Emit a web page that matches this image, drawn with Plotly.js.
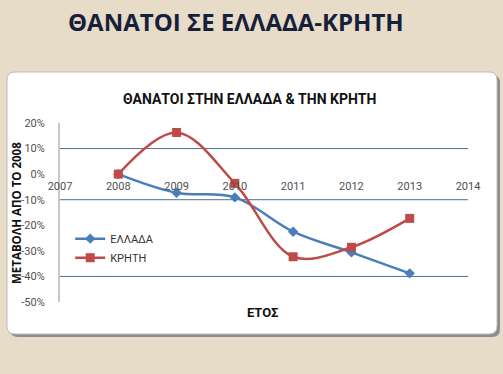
<!DOCTYPE html>
<html>
<head>
<meta charset="utf-8">
<script src="https://cdn.plot.ly/plotly-3.0.1.min.js"></script>
<style>html,body{margin:0;padding:0;background:#e6dcc8;}#chart{width:503px;height:374px;}</style>
</head>
<body>
<div id="chart"></div>
<script>
const years = [2008, 2009, 2010, 2011, 2012, 2013];
const greece = [0, -0.073, -0.091, -0.225, -0.306, -0.388];
const crete = [0, 0.163, -0.036, -0.323, -0.286, -0.173];
const xTicks = [2007, 2008, 2009, 2010, 2011, 2012, 2013, 2014];
const yTicks = [0.2, 0.1, 0, -0.1, -0.2, -0.3, -0.4, -0.5];
const yTickText = ['20%', '10%', '0%', '-10%', '-20%', '-30%', '-40%', '-50%'];
const gridVals = [0.1, -0.1, -0.4];
const seriesNames = ['ΕΛΛΑΔΑ', 'ΚΡΗΤΗ'];

const FONT = 'Roboto, "Open Sans", sans-serif';

const traces = [
  {x: years, y: greece, name: seriesNames[0], type: 'scatter', mode: 'lines+markers',
   line: {color: '#4a7ebb', width: 2.5, shape: 'spline', smoothing: 1},
   marker: {symbol: 'diamond', size: 8, color: '#4a7ebb'}},
  {x: years, y: crete, name: seriesNames[1], type: 'scatter', mode: 'lines+markers',
   line: {color: '#be4b48', width: 2.5, shape: 'spline', smoothing: 1},
   marker: {symbol: 'square', size: 9, color: '#be4b48'}}
];

// px -> paper helpers (plot area 60..468 x, 123..302 y)
const L = 60, R = 468, T = 123, B = 302;
const px = v => (v - L) / (R - L);
const py = v => (B - v) / (B - T);
function rrect(x0, y0, x1, y1, r) {
  const a = px(x0), b = px(x1), c = py(y0), d = py(y1);
  const rx = r / (R - L), ry = r / (B - T);
  return `M ${a+rx},${c} L ${b-rx},${c} Q ${b},${c} ${b},${c-ry} L ${b},${d+ry} Q ${b},${d} ${b-rx},${d} L ${a+rx},${d} Q ${a},${d} ${a},${d+ry} L ${a},${c-ry} Q ${a},${c} ${a+rx},${c} Z`;
}

const shapes = [
  {type: 'path', xref: 'paper', yref: 'paper', layer: 'below', path: rrect(10, 75, 500, 337, 8),
   fillcolor: '#8c8c8c', line: {width: 0}},
  {type: 'path', xref: 'paper', yref: 'paper', layer: 'below', path: rrect(7, 72, 497, 334, 8),
   fillcolor: '#ffffff', line: {color: '#bdbdbd', width: 1}}
];
gridVals.forEach(v => shapes.push({type: 'line', xref: 'paper', yref: 'y', x0: 0, x1: 1, y0: v, y1: v,
  layer: 'below', line: {color: '#4f6f92', width: 1}}));

const layout = {
  width: 503, height: 374,
  paper_bgcolor: '#e6dcc8', plot_bgcolor: 'rgba(0,0,0,0)',
  margin: {l: L, r: 503 - R, t: T, b: 374 - B},
  showlegend: true,
  legend: {x: 0.025, y: 0.435, xanchor: 'left', yanchor: 'top', bgcolor: 'rgba(0,0,0,0)',
           font: {family: FONT, size: 11, color: '#333'}, tracegroupgap: 2},
  xaxis: {range: [2007, 2014], tickvals: xTicks, ticktext: xTicks.map(String),
          anchor: 'free', position: 0.5 / 0.7, showline: false, showgrid: false, zeroline: false,
          ticks: '', ticklabelstandoff: 4, tickfont: {family: FONT, size: 11, color: '#505050'}},
  yaxis: {range: [-0.5, 0.2], tickvals: yTicks, ticktext: yTickText, showgrid: false, zeroline: false,
          showline: true, linecolor: '#c8c8c8', linewidth: 2, ticks: '', ticklabelstandoff: 11,
          tickfont: {family: FONT, size: 11, color: '#505050'}},
  shapes: shapes,
  annotations: [
    {text: '<b>ΘΑΝΑΤΟΙ ΣΕ ΕΛΛΑΔΑ-ΚΡΗΤΗ</b>', xref: 'paper', yref: 'paper', x: px(236), y: py(21),
     xanchor: 'center', yanchor: 'middle',
     showarrow: false, font: {family: '"Open Sans", sans-serif', size: 24, color: '#17203a'}},
    {text: '<b>ΘΑΝΑΤΟΙ ΣΤΗΝ ΕΛΛΑΔΑ & ΤΗΝ ΚΡΗΤΗ</b>', xref: 'paper', yref: 'paper', x: px(249), y: py(99),
     xanchor: 'center', yanchor: 'middle',
     showarrow: false, font: {family: FONT, size: 14, color: '#111'}},
    {text: '<b>ΕΤΟΣ</b>', xref: 'paper', yref: 'paper', x: px(263), y: py(312),
     xanchor: 'center', yanchor: 'middle',
     showarrow: false, font: {family: FONT, size: 13, color: '#111'}},
    {text: '<b>ΜΕΤΑΒΟΛΗ ΑΠΟ ΤΟ 2008</b>', xref: 'paper', yref: 'paper', x: px(16), y: py(213),
     xanchor: 'center', yanchor: 'middle',
     textangle: -90, showarrow: false, font: {family: '"Open Sans", sans-serif', size: 11.5, color: '#111'}}
  ]
};

Plotly.newPlot('chart', traces, layout, {displayModeBar: false, staticPlot: true});
</script>
</body>
</html>
